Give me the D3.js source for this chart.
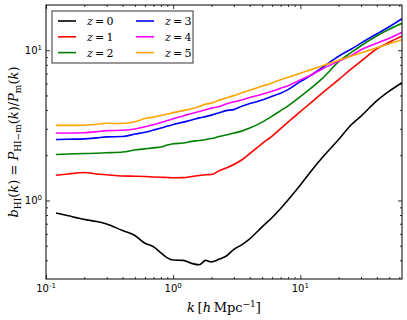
<!DOCTYPE html>
<html>
<head>
<meta charset="utf-8">
<script src="https://cdn.jsdelivr.net/npm/d3@7"></script>
<style>
  body { margin: 0; background: #fff; }
  svg { display: block; }
</style>
</head>
<body>
<div id="chart"></div>
<script>
// wavenumbers k [h/Mpc], shared by all redshifts
var kValues = [0.12, 0.15, 0.2, 0.25, 0.3, 0.4, 0.5, 0.6, 0.7, 0.8, 0.9, 1.0, 1.2, 1.4, 1.6, 1.8, 2.0, 2.3, 2.6, 3, 3.5, 4, 5, 6, 7, 8, 10, 12, 15, 20, 25, 30, 40, 50, 63];

// HI bias b_HI(k)
var biasZ0 = [0.826, 0.790, 0.748, 0.724, 0.697, 0.630, 0.584, 0.519, 0.492, 0.448, 0.415, 0.401, 0.399, 0.381, 0.373, 0.399, 0.390, 0.407, 0.425, 0.472, 0.510, 0.555, 0.667, 0.770, 0.885, 1.008, 1.268, 1.547, 1.945, 2.543, 3.176, 3.643, 4.618, 5.341, 6.08];
var biasZ1 = [1.473, 1.500, 1.535, 1.500, 1.482, 1.455, 1.450, 1.444, 1.433, 1.426, 1.422, 1.415, 1.418, 1.444, 1.466, 1.484, 1.489, 1.578, 1.644, 1.735, 1.873, 2.052, 2.391, 2.683, 3.009, 3.323, 3.903, 4.445, 5.220, 6.368, 7.477, 8.452, 10.23, 11.30, 12.39];
var biasZ2 = [2.021, 2.037, 2.052, 2.062, 2.075, 2.100, 2.165, 2.206, 2.240, 2.268, 2.338, 2.385, 2.411, 2.474, 2.504, 2.543, 2.582, 2.662, 2.724, 2.809, 2.905, 3.032, 3.323, 3.643, 3.963, 4.265, 4.910, 5.549, 6.516, 8.387, 9.626, 10.71, 12.49, 13.79, 15.11];
var biasZ3 = [2.543, 2.555, 2.570, 2.610, 2.650, 2.662, 2.766, 2.843, 2.941, 3.032, 3.126, 3.199, 3.323, 3.427, 3.544, 3.615, 3.699, 3.832, 3.963, 4.024, 4.259, 4.412, 4.655, 4.947, 5.180, 5.465, 6.174, 6.769, 7.709, 9.124, 10.15, 11.16, 12.87, 14.32, 16.20];
var biasZ4 = [2.809, 2.813, 2.822, 2.865, 2.918, 2.932, 2.986, 3.093, 3.199, 3.298, 3.401, 3.496, 3.654, 3.797, 3.915, 4.012, 4.118, 4.214, 4.378, 4.533, 4.676, 4.851, 5.093, 5.341, 5.591, 5.809, 6.349, 6.822, 7.535, 8.452, 9.194, 10.08, 11.13, 12.02, 13.17];
var biasZ5 = [3.161, 3.161, 3.170, 3.219, 3.263, 3.249, 3.338, 3.507, 3.588, 3.672, 3.757, 3.844, 3.963, 4.074, 4.214, 4.378, 4.445, 4.655, 4.800, 4.986, 5.220, 5.424, 5.765, 6.062, 6.368, 6.597, 7.034, 7.398, 7.889, 8.583, 9.124, 9.581, 10.39, 11.05, 11.75];

var redshifts = ["0", "1", "2", "3", "4", "5"];
var seriesColors = ["#000000", "#ff0000", "#008000", "#0000ff", "#ff00ff", "#ffa500"];
var allBias = [biasZ0, biasZ1, biasZ2, biasZ3, biasZ4, biasZ5];

var xMajorTicks = [0.1, 1, 10];
var xMajorExps = ["-1", "0", "1"];
var yMajorTicks = [1, 10];
var yMajorExps = ["0", "1"];

var width = 407, height = 320;
var margin = {top: 5, right: 5, bottom: 41, left: 46};
var plotW = width - margin.left - margin.right;
var plotH = height - margin.top - margin.bottom;

var svg = d3.select("#chart").append("svg")
    .attr("width", width)
    .attr("height", height);

var g = svg.append("g")
    .attr("transform", "translate(" + margin.left + "," + margin.top + ")");

var x = d3.scaleLog().domain([0.1, 63]).range([0, plotW]);
var y = d3.scaleLog().domain([0.3, 20]).range([plotH, 0]);

// minor ticks: 2..9 of each decade inside the domain
function minorTicks(scale) {
    var d = scale.domain(), out = [];
    for (var e = -2; e <= 2; e++) {
        for (var m = 2; m <= 9; m++) {
            var v = m * Math.pow(10, e);
            if (v > d[0] * 1.0001 && v < d[1] * 0.9999) out.push(v);
        }
    }
    return out;
}

g.append("defs").append("clipPath").attr("id", "plotClip")
    .append("rect").attr("width", plotW).attr("height", plotH);

// curves
var line = d3.line()
    .x(function(d) { return x(d[0]); })
    .y(function(d) { return y(d[1]); })
    .curve(d3.curveMonotoneX);

var seriesData = allBias.map(function(b, i) {
    return {z: redshifts[i], color: seriesColors[i], values: kValues.map(function(k, j) { return [k, b[j]]; })};
});

g.append("g").attr("clip-path", "url(#plotClip)")
    .selectAll(".curve")
    .data(seriesData)
    .enter().append("path")
    .attr("class", "curve")
    .attr("d", function(d) { return line(d.values); })
    .attr("fill", "none")
    .attr("stroke", function(d) { return d.color; })
    .attr("stroke-width", 1.6)
    .attr("stroke-linejoin", "round");

// axes: ticks point inward on all four sides
function tickAxis(axisFn, scale, values, size, tx, ty) {
    var a = axisFn(scale).tickValues(values).tickSize(-size).tickFormat("");
    var sel = g.append("g").attr("transform", "translate(" + tx + "," + ty + ")").call(a);
    sel.select(".domain").remove();
    sel.selectAll("line").attr("stroke", "#000").attr("stroke-width", 0.8);
}

tickAxis(d3.axisBottom, x, xMajorTicks, 4, 0, plotH);
tickAxis(d3.axisBottom, x, minorTicks(x), 2, 0, plotH);
tickAxis(d3.axisTop, x, xMajorTicks, 4, 0, 0);
tickAxis(d3.axisTop, x, minorTicks(x), 2, 0, 0);
tickAxis(d3.axisLeft, y, yMajorTicks, 4, 0, 0);
tickAxis(d3.axisLeft, y, minorTicks(y), 2, 0, 0);
tickAxis(d3.axisRight, y, yMajorTicks, 4, plotW, 0);
tickAxis(d3.axisRight, y, minorTicks(y), 2, plotW, 0);

g.append("rect")
    .attr("width", plotW).attr("height", plotH)
    .attr("fill", "none").attr("stroke", "#000").attr("stroke-width", 1);

// tick labels 10^n
function powerLabel(sel, exp) {
    sel.append("tspan").text("10");
    sel.append("tspan").text(exp).attr("font-size", 7).attr("dy", -4);
}

xMajorTicks.forEach(function(v, i) {
    var t = g.append("text")
        .attr("x", x(v)).attr("y", plotH + 13)
        .attr("text-anchor", "middle")
        .attr("font-family", "DejaVu Sans, sans-serif")
        .attr("font-size", 10);
    powerLabel(t, xMajorExps[i]);
});

yMajorTicks.forEach(function(v, i) {
    var t = g.append("text")
        .attr("x", -4).attr("y", y(v) + 4)
        .attr("text-anchor", "end")
        .attr("font-family", "DejaVu Sans, sans-serif")
        .attr("font-size", 10);
    powerLabel(t, yMajorExps[i]);
});

// axis titles
function mathText(sel, pieces) {
    sel.selectAll("tspan").data(pieces).enter().append("tspan")
        .text(function(d) { return d.t; })
        .style("font-style", function(d) { return d.it ? "italic" : "normal"; })
        .attr("font-size", function(d) { return (d.sub || d.sup) ? 9 : 13; })
        .attr("baseline-shift", function(d) { return d.sub ? "-3" : (d.sup ? "5" : null); });
}

var xTitle = svg.append("text")
    .attr("x", 224).attr("y", 312)
    .attr("text-anchor", "middle")
    .attr("font-family", "DejaVu Serif, serif");
mathText(xTitle, [
    {t: "k", it: true}, {t: "\u2009[", it: false}, {t: "h", it: true},
    {t: "\u2009Mpc", it: false}, {t: "\u22121", sup: true}, {t: "]", it: false}
]);

var yTitle = svg.append("text")
    .attr("transform", "translate(18," + (margin.top + plotH / 2) + ") rotate(-90)")
    .attr("text-anchor", "middle")
    .attr("font-family", "DejaVu Serif, serif");
mathText(yTitle, [
    {t: "b", it: true}, {t: "HI", sub: true}, {t: "(", it: false}, {t: "k", it: true},
    {t: ") = ", it: false}, {t: "P", it: true}, {t: "HI\u2212m", sub: true},
    {t: "(", it: false}, {t: "k", it: true}, {t: ")/", it: false}, {t: "P", it: true},
    {t: "m", sub: true}, {t: "(", it: false}, {t: "k", it: true}, {t: ")", it: false}
]);

// legend, two columns of three
var legend = svg.append("g").attr("transform", "translate(52,11)");
legend.append("rect")
    .attr("width", 141).attr("height", 52)
    .attr("fill", "#fff").attr("stroke", "#555").attr("stroke-width", 1.2);

var items = legend.selectAll(".item")
    .data(seriesData)
    .enter().append("g")
    .attr("class", "item")
    .attr("transform", function(d, i) {
        return "translate(" + (Math.floor(i / 3) * 78) + "," + (10 + (i % 3) * 15.8) + ")";
    });

items.append("line")
    .attr("x1", 6).attr("x2", 24)
    .attr("stroke", function(d) { return d.color; })
    .attr("stroke-width", 1.6);

items.append("text")
    .attr("x", 35).attr("y", 4)
    .attr("font-family", "DejaVu Serif, serif")
    .attr("font-size", 11)
    .each(function(d) {
        var t = d3.select(this);
        t.append("tspan").text("z").style("font-style", "italic");
        t.append("tspan").text("\u2009=\u2009" + d.z);
    });
</script>
</body>
</html>
